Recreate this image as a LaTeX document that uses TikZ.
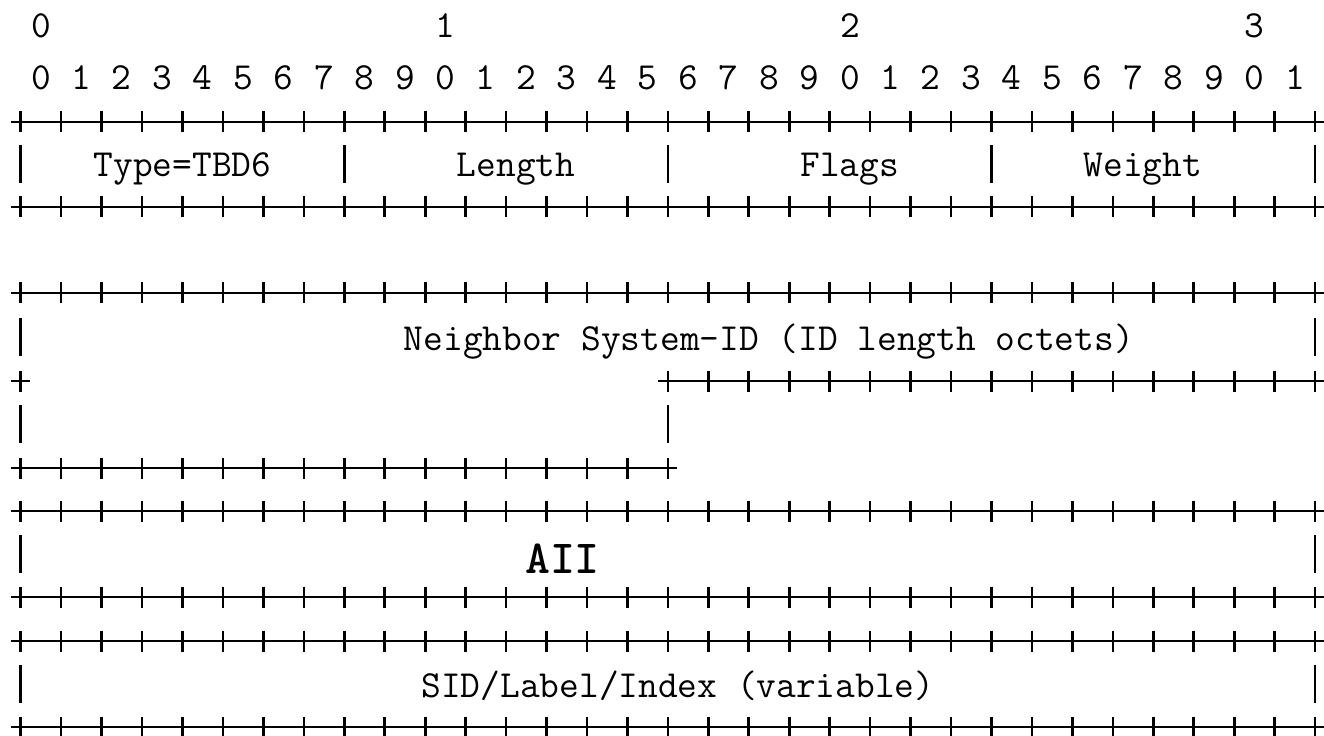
\documentclass[tikz,border=0pt]{standalone}
\usepackage{tikz}
\tikzset{
  rule/.style={line width=1.5pt, black, line cap=butt},
  mono/.style={font=\fontsize{21.8pt}{26pt}\selectfont\ttfamily, inner sep=0pt, anchor=base, text=black},
  monobold/.style={font=\fontsize{27pt}{32pt}\selectfont\ttfamily\bfseries, inner sep=0pt, anchor=base, text=black},
}
% bit boundary i is at x = 20.7 + 40.45*i (pixels)
\newcommand{\pktplus}[3]{%
  \draw[rule] ({20.7+40.45*#2-9.5},#1) -- ({20.7+40.45*#3+9.5},#1);
  \foreach \i in {#2,...,#3}{\draw[rule] ({20.7+40.45*\i},{#1-10.5}) -- ({20.7+40.45*\i},{#1+10.5});}%
}
\newcommand{\pktbar}[2]{%
  \draw[rule] ({20.7+40.45*#2},{#1-19}) -- ({20.7+40.45*#2},{#1+19});%
}
\begin{document}
\begin{tikzpicture}[x=0.02cm,y=-0.02cm]
\fill[white] (0,0) rectangle (1324,736);
\useasboundingbox (0,0) rectangle (1324,736);

% bit scale, tens
\node[mono] (t0) at ({40.9+40.45*0},38) {0};
\node[mono] (t1) at ({40.9+40.45*10},38) {1};
\node[mono] (t2) at ({40.9+40.45*20},38) {2};
\node[mono] (t3) at ({40.9+40.45*30},38) {3};
% bit scale, units
\foreach \i in {0,...,31}{%
  \pgfmathtruncatemacro\d{mod(\i,10)}%
  \node[mono] (u\i) at ({40.9+40.45*\i},90) {\d};
}

% row 1: Type / Length / Flags / Weight
\pktplus{122}{0}{32}
\pktbar{164}{0}\pktbar{164}{8}\pktbar{164}{16}\pktbar{164}{24}\pktbar{164}{32}
\node[mono] (type) at (182.5,177) {Type=TBD6};
\node[mono] (length) at (516,177) {Length};
\node[mono] (flags) at (849.7,177) {Flags};
\node[mono] (weight) at (1142.9,177) {Weight};
\pktplus{207}{0}{32}

% Neighbor System-ID
\pktplus{293}{0}{32}
\pktbar{337}{0}\pktbar{337}{32}
\node[mono] (nbr) at (768.8,350) {Neighbor System-ID (ID length octets)};
\pktplus{381}{0}{0}
\pktplus{381}{16}{32}
\pktbar{424}{0}\pktbar{424}{16}
\pktplus{468}{0}{16}

% AII
\pktplus{511}{0}{32}
\pktbar{554}{0}\pktbar{554}{32}
\node[monobold] (aii) at (562.5,573) {AII};
\pktplus{597}{0}{32}

% SID/Label/Index
\pktplus{641}{0}{32}
\pktbar{684}{0}\pktbar{684}{32}
\node[mono] (sid) at (677.9,697) {SID/Label/Index (variable)};
\pktplus{727}{0}{32}
\end{tikzpicture}
\end{document}
